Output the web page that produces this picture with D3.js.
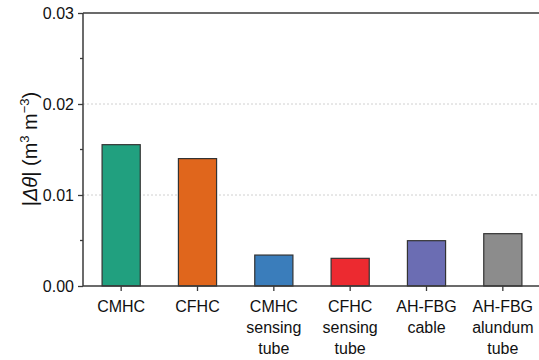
<!DOCTYPE html>
<html><head><meta charset="utf-8">
<script src="https://cdn.jsdelivr.net/npm/d3@7"></script>
<style>body{margin:0;background:#fff}svg{display:block;font-family:"Liberation Sans",Arial,sans-serif}</style>
</head><body>
<svg id="c" width="539" height="360"></svg>
<script>
const categories = [["CMHC"],["CFHC"],["CMHC","sensing","tube"],["CFHC","sensing","tube"],["AH-FBG","cable"],["AH-FBG","alundum","tube"]];
const values = [0.01553, 0.0140, 0.0034, 0.00304, 0.00498, 0.00575];
const colors = ["#21a07f","#e0661c","#3a7dbb","#ec2a30","#6b6db3","#8c8c8c"];
const yTicks = [0.00, 0.01, 0.02, 0.03];
const yMinorTicks = [0.005, 0.015, 0.025];

(function(){
const svg = d3.select("#c");
const pL = 83, pR = 541, pT = 13, pB = 286;
const ids = categories.map((d,i)=>i);
const x = d3.scaleBand().domain(ids).range([pL,pR]).paddingInner(0.5).paddingOuter(0.25);
const y = d3.scaleLinear().domain([0,0.03]).range([pB,pT]);
const axisColor = "#3a3a3a";

svg.append("g").selectAll("line").data([0.01,0.02]).join("line")
  .attr("x1",pL).attr("x2",539).attr("y1",d=>y(d)).attr("y2",d=>y(d))
  .attr("stroke","#d0d0d0").attr("stroke-width",1).attr("stroke-dasharray","2,2");

svg.append("g").selectAll("rect").data(values).join("rect")
  .attr("x",(d,i)=>x(i)).attr("width",x.bandwidth())
  .attr("y",d=>y(d)).attr("height",d=>y(0)-y(d))
  .attr("fill",(d,i)=>colors[i]).attr("stroke","#333").attr("stroke-width",1.2);

const ya = svg.append("g").attr("transform",`translate(${pL},0)`)
  .call(d3.axisLeft(y).tickValues(yTicks).tickFormat(d3.format(".2f")).tickSize(5).tickPadding(4));
ya.select(".domain").remove();
ya.selectAll(".tick line").attr("stroke",axisColor).attr("stroke-width",1.3);
ya.selectAll(".tick text").attr("font-size",16).attr("fill","#111");
svg.append("g").selectAll("line").data(yMinorTicks).join("line")
  .attr("x1",pL-3).attr("x2",pL).attr("y1",d=>y(d)).attr("y2",d=>y(d))
  .attr("stroke",axisColor).attr("stroke-width",1.3);

const xa = svg.append("g").attr("transform",`translate(0,${pB})`)
  .call(d3.axisBottom(x).tickSize(5).tickFormat(""));
xa.select(".domain").remove();
xa.selectAll(".tick line").attr("stroke",axisColor).attr("stroke-width",1.3);
xa.selectAll(".tick").each(function(d){
  const t = d3.select(this).append("text").attr("text-anchor","middle").attr("font-size",16).attr("fill","#111");
  categories[d].forEach((s,j)=>t.append("tspan").attr("x",0).attr("y",26+j*21).text(s));
});

svg.append("line").attr("x1",pL).attr("x2",539).attr("y1",pB).attr("y2",pB).attr("stroke",axisColor).attr("stroke-width",1.5);
svg.append("line").attr("x1",pL).attr("x2",539).attr("y1",pT).attr("y2",pT).attr("stroke",axisColor).attr("stroke-width",1.5);
svg.append("line").attr("x1",pL).attr("x2",pL).attr("y1",pT).attr("y2",pB).attr("stroke",axisColor).attr("stroke-width",1.5);

const yl = svg.append("text").attr("transform","translate(37,149) rotate(-90)").attr("text-anchor","middle").attr("font-size",20).attr("fill","#111");
yl.append("tspan").text("|");
yl.append("tspan").attr("font-style","italic").text("Δθ");
yl.append("tspan").text("| (m");
yl.append("tspan").attr("font-size",13).attr("dy",-8).text("3");
yl.append("tspan").attr("dy",8).text(" m");
yl.append("tspan").attr("font-size",13).attr("dy",-8).text("−3");
yl.append("tspan").attr("dy",8).text(")");
})();
</script>
</body></html>
